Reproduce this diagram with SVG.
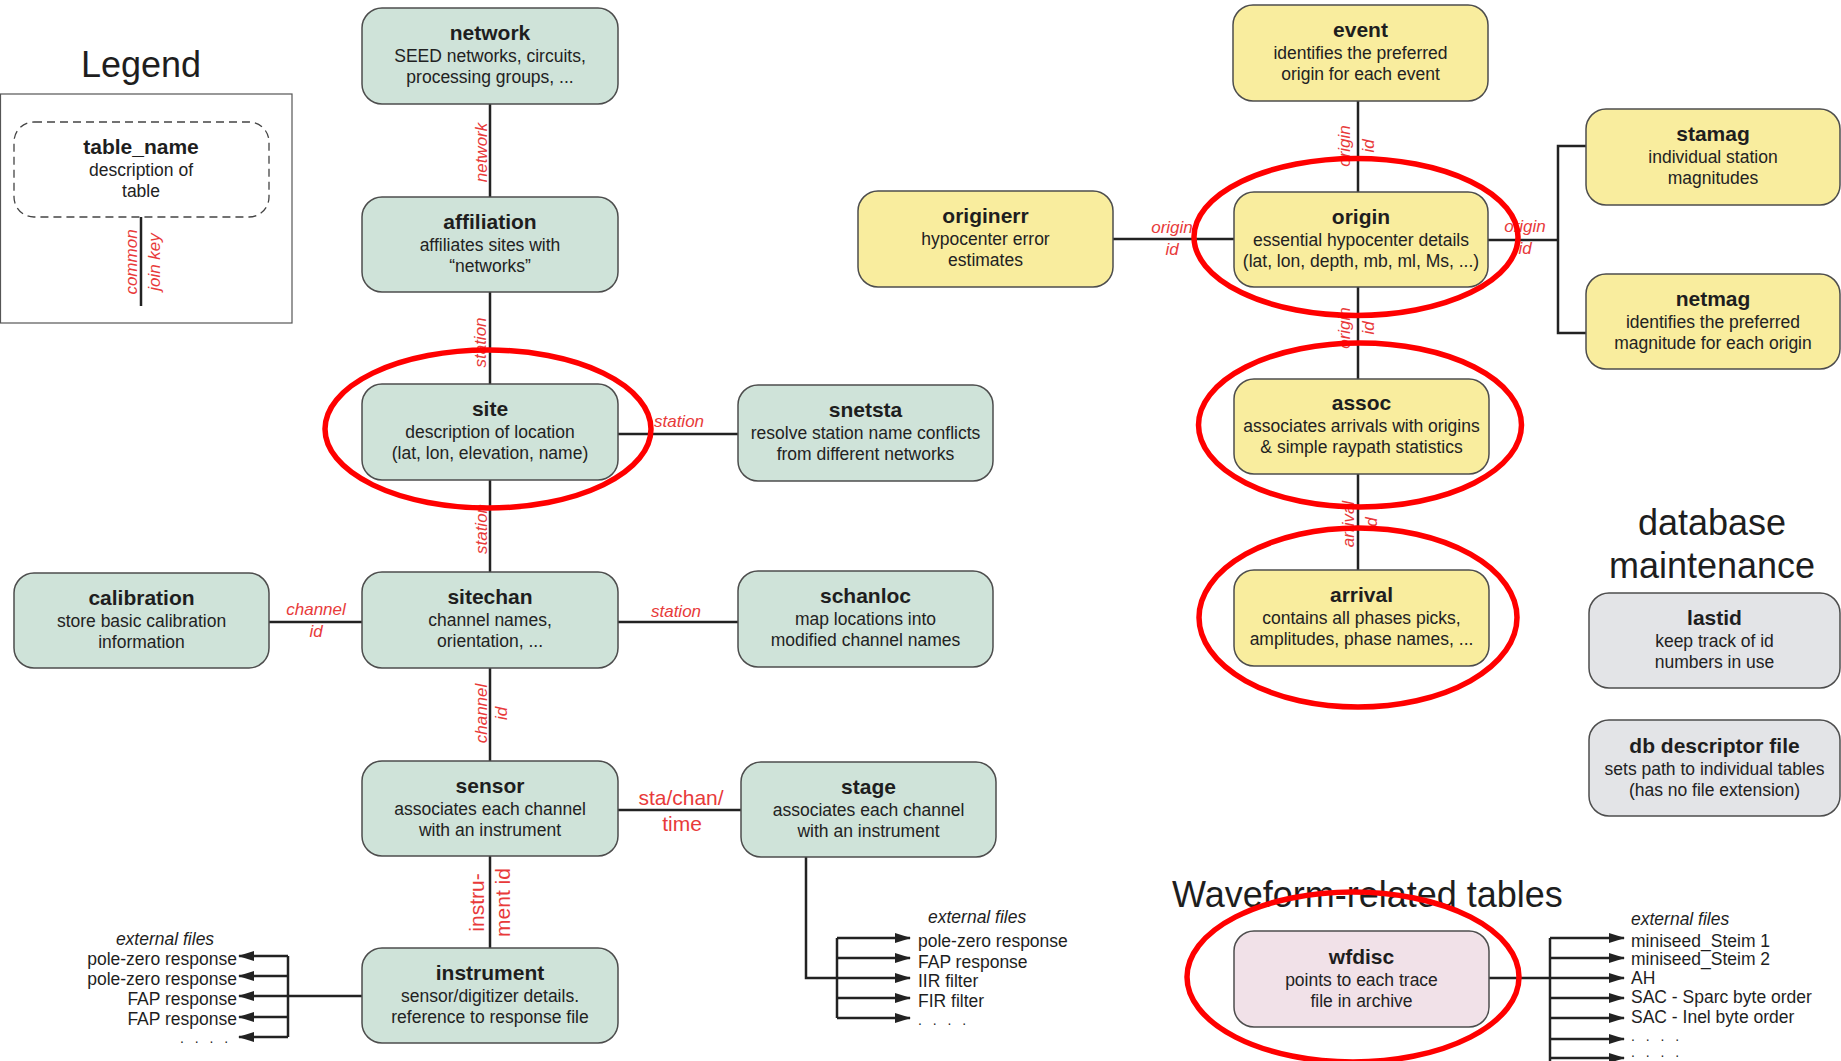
<svg xmlns="http://www.w3.org/2000/svg" width="1841" height="1061" viewBox="0 0 1841 1061">
<defs>
<style>
text{font-family:"Liberation Sans",Arial,sans-serif}
.box{stroke:#4d4d4d;stroke-width:1.5}
.green{fill:#cfe3d9}
.yellow{fill:#f9ed9e}
.gray{fill:#e3e4e7}
.pink{fill:#f1e1e8}
.t{font-size:21px;font-weight:bold;fill:#1e1e1e;text-anchor:middle}
.s{font-size:17.5px;fill:#222;text-anchor:middle}
.lbl{font-size:17px;font-style:italic;fill:#e83a3a;text-anchor:middle}
.lblr{font-size:21px;fill:#e83a3a;text-anchor:middle}
.big{font-size:36px;fill:#1e1e1e}
.ext{font-size:17.5px;fill:#1e1e1e}
.dots{font-size:14px;fill:#1e1e1e;word-spacing:7px}
.exti{font-size:17.5px;font-style:italic;fill:#1e1e1e}
.ln{stroke:#222;stroke-width:2.5;fill:none}
.arr{stroke:#222;stroke-width:2.5;fill:none;marker-end:url(#ah)}
.ell{fill:none;stroke:#f00;stroke-width:5.5}
</style>
<marker id="ah" viewBox="0 0 16 10" refX="15" refY="5" markerWidth="16" markerHeight="10" markerUnits="userSpaceOnUse" orient="auto">
<path d="M0,0 L16,5 L0,10 z" fill="#222"/>
</marker>
</defs>
<rect width="1841" height="1061" fill="#fff"/>

<!-- Headings -->
<text class="big" x="141" y="77" text-anchor="middle">Legend</text>
<text class="big" x="1712" y="535" text-anchor="middle">database</text>
<text class="big" x="1712" y="578" text-anchor="middle">maintenance</text>
<text class="big" x="1172" y="907">Waveform-related tables</text>

<!-- Legend -->
<g id="legend">
<rect x="0.5" y="94" width="291.5" height="229" fill="none" stroke="#555" stroke-width="1.2"/>
<rect x="14" y="122" width="255" height="95" rx="20" fill="#fff" stroke="#444" stroke-width="1.3" stroke-dasharray="8 5"/>
<text class="t" x="141" y="154">table_name</text>
<text class="s" x="141" y="176">description of</text>
<text class="s" x="141" y="197">table</text>
<line class="ln" x1="141" y1="217" x2="141" y2="306"/>
<g transform="translate(141,262) rotate(-90)">
<text class="lbl" x="0" y="-4">common</text>
<text class="lbl" x="0" y="19">join key</text>
</g>
</g>

<!-- Connectors -->
<g id="connectors">
<line class="ln" x1="490" y1="104" x2="490" y2="197"/>
<line class="ln" x1="490" y1="292" x2="490" y2="384"/>
<line class="ln" x1="490" y1="480" x2="490" y2="572"/>
<line class="ln" x1="490" y1="668" x2="490" y2="761"/>
<line class="ln" x1="490" y1="856" x2="490" y2="948"/>
<line class="ln" x1="618" y1="434" x2="738" y2="434"/>
<line class="ln" x1="269" y1="622" x2="362" y2="622"/>
<line class="ln" x1="618" y1="622" x2="738" y2="622"/>
<line class="ln" x1="618" y1="810" x2="741" y2="810"/>
<!-- instrument external files -->
<line class="ln" x1="362" y1="996" x2="288" y2="996"/>
<line class="ln" x1="288" y1="956" x2="288" y2="1037"/>
<line class="arr" x1="288" y1="956" x2="239" y2="956"/>
<line class="arr" x1="288" y1="976" x2="239" y2="976"/>
<line class="arr" x1="288" y1="996" x2="239" y2="996"/>
<line class="arr" x1="288" y1="1017" x2="239" y2="1017"/>
<line class="arr" x1="288" y1="1037" x2="239" y2="1037"/>
<!-- stage external files -->
<polyline class="ln" points="806,857 806,978 837,978"/>
<line class="ln" x1="837" y1="938" x2="837" y2="1018"/>
<line class="arr" x1="837" y1="938" x2="910" y2="938"/>
<line class="arr" x1="837" y1="958" x2="910" y2="958"/>
<line class="arr" x1="837" y1="978" x2="910" y2="978"/>
<line class="arr" x1="837" y1="998" x2="910" y2="998"/>
<line class="arr" x1="837" y1="1018" x2="910" y2="1018"/>
<!-- event side -->
<line class="ln" x1="1358" y1="101" x2="1358" y2="192"/>
<line class="ln" x1="1113" y1="239" x2="1234" y2="239"/>
<line class="ln" x1="1358" y1="287" x2="1358" y2="379"/>
<line class="ln" x1="1358" y1="474" x2="1358" y2="570"/>
<line class="ln" x1="1488" y1="240" x2="1558" y2="240"/>
<polyline class="ln" points="1586,146 1558,146 1558,333 1586,333"/>
<!-- wfdisc external files -->
<line class="ln" x1="1489" y1="978" x2="1550" y2="978"/>
<line class="ln" x1="1550" y1="938" x2="1550" y2="1061"/>
<line class="arr" x1="1550" y1="938" x2="1624" y2="938"/>
<line class="arr" x1="1550" y1="958" x2="1624" y2="958"/>
<line class="arr" x1="1550" y1="978" x2="1624" y2="978"/>
<line class="arr" x1="1550" y1="998" x2="1624" y2="998"/>
<line class="arr" x1="1550" y1="1018" x2="1624" y2="1018"/>
<line class="arr" x1="1550" y1="1039" x2="1624" y2="1039"/>
<line class="arr" x1="1550" y1="1058" x2="1624" y2="1058"/>

<!-- connector labels -->
<text class="lbl" transform="translate(490,152.5) rotate(-90)" y="-3">network</text>
<text class="lbl" transform="translate(490,342.5) rotate(-90)" y="-4">station</text>
<text class="lbl" transform="translate(490,529) rotate(-90)" y="-3">station</text>
<g transform="translate(490,713.5) rotate(-90)">
<text class="lbl" y="-3.5">channel</text>
<text class="lbl" y="17">id</text>
</g>
<g transform="translate(490,902.5) rotate(-90)">
<text class="lblr" y="-6.5">instru-</text>
<text class="lblr" y="19.5">ment id</text>
</g>
<text class="lbl" x="679" y="427">station</text>
<text class="lbl" x="676" y="617">station</text>
<text class="lbl" x="316" y="615">channel</text>
<text class="lbl" x="316" y="637">id</text>
<text class="lblr" x="681" y="805">sta/chan/</text>
<text class="lblr" x="682" y="831">time</text>
<g transform="translate(1358,146) rotate(-90)">
<text class="lbl" y="-8">origin</text>
<text class="lbl" y="16">id</text>
</g>
<g transform="translate(1358,328) rotate(-90)">
<text class="lbl" y="-8">origin</text>
<text class="lbl" y="16">id</text>
</g>
<g transform="translate(1358,524) rotate(-90)">
<text class="lbl" y="-4">arrival</text>
<text class="lbl" y="19">id</text>
</g>
<text class="lbl" x="1172" y="233">origin</text>
<text class="lbl" x="1172" y="255">id</text>
<text class="lbl" x="1525" y="232">origin</text>
<text class="lbl" x="1525" y="254">id</text>

<!-- external file labels -->
<text class="exti" x="165" y="945" text-anchor="middle">external files</text>
<text class="ext" x="237" y="965" text-anchor="end">pole-zero response</text>
<text class="ext" x="237" y="985" text-anchor="end">pole-zero response</text>
<text class="ext" x="237" y="1005" text-anchor="end">FAP response</text>
<text class="ext" x="237" y="1025" text-anchor="end">FAP response</text>
<text class="dots" x="180" y="1043">. . . .</text>

<text class="exti" x="928" y="923">external files</text>
<text class="ext" x="918" y="947">pole-zero response</text>
<text class="ext" x="918" y="968">FAP response</text>
<text class="ext" x="918" y="987">IIR filter</text>
<text class="ext" x="918" y="1007">FIR filter</text>
<text class="dots" x="918" y="1025">. . . .</text>

<text class="exti" x="1631" y="925">external files</text>
<text class="ext" x="1631" y="947">miniseed_Steim 1</text>
<text class="ext" x="1631" y="965">miniseed_Steim 2</text>
<text class="ext" x="1631" y="984">AH</text>
<text class="ext" x="1631" y="1003">SAC - Sparc byte order</text>
<text class="ext" x="1631" y="1023">SAC - Inel byte order</text>
<text class="dots" x="1631" y="1041">. . . .</text>
<text class="dots" x="1631" y="1057">. . . .</text>
</g>

<!-- Nodes -->
<g id="node-network">
<rect class="box green" x="362" y="8" width="256" height="96" rx="20"/>
<text class="t" x="490" y="40">network</text>
<text class="s" x="490" y="62">SEED networks, circuits,</text>
<text class="s" x="490" y="83">processing groups, ...</text>
</g>
<g id="node-affiliation">
<rect class="box green" x="362" y="197" width="256" height="95" rx="20"/>
<text class="t" x="490" y="229">affiliation</text>
<text class="s" x="490" y="251">affiliates sites with</text>
<text class="s" x="490" y="272">“networks”</text>
</g>
<g id="node-site">
<rect class="box green" x="362" y="384" width="256" height="96" rx="20"/>
<text class="t" x="490" y="416">site</text>
<text class="s" x="490" y="438">description of location</text>
<text class="s" x="490" y="459">(lat, lon, elevation, name)</text>
</g>
<g id="node-snetsta">
<rect class="box green" x="738" y="385" width="255" height="96" rx="20"/>
<text class="t" x="865.5" y="417">snetsta</text>
<text class="s" x="865.5" y="439">resolve station name conflicts</text>
<text class="s" x="865.5" y="460">from different networks</text>
</g>
<g id="node-calibration">
<rect class="box green" x="14" y="573" width="255" height="95" rx="20"/>
<text class="t" x="141.5" y="605">calibration</text>
<text class="s" x="141.5" y="627">store basic calibration</text>
<text class="s" x="141.5" y="648">information</text>
</g>
<g id="node-sitechan">
<rect class="box green" x="362" y="572" width="256" height="96" rx="20"/>
<text class="t" x="490" y="604">sitechan</text>
<text class="s" x="490" y="626">channel names,</text>
<text class="s" x="490" y="647">orientation, ...</text>
</g>
<g id="node-schanloc">
<rect class="box green" x="738" y="571" width="255" height="96" rx="20"/>
<text class="t" x="865.5" y="603">schanloc</text>
<text class="s" x="865.5" y="625">map locations into</text>
<text class="s" x="865.5" y="646">modified channel names</text>
</g>
<g id="node-sensor">
<rect class="box green" x="362" y="761" width="256" height="95" rx="20"/>
<text class="t" x="490" y="793">sensor</text>
<text class="s" x="490" y="815">associates each channel</text>
<text class="s" x="490" y="836">with an instrument</text>
</g>
<g id="node-stage">
<rect class="box green" x="741" y="762" width="255" height="95" rx="20"/>
<text class="t" x="868.5" y="794">stage</text>
<text class="s" x="868.5" y="816">associates each channel</text>
<text class="s" x="868.5" y="837">with an instrument</text>
</g>
<g id="node-instrument">
<rect class="box green" x="362" y="948" width="256" height="95" rx="20"/>
<text class="t" x="490" y="980">instrument</text>
<text class="s" x="490" y="1002">sensor/digitizer details.</text>
<text class="s" x="490" y="1023">reference to response file</text>
</g>
<g id="node-event">
<rect class="box yellow" x="1233" y="5" width="255" height="96" rx="20"/>
<text class="t" x="1360.5" y="37">event</text>
<text class="s" x="1360.5" y="59">identifies the preferred</text>
<text class="s" x="1360.5" y="80">origin for each event</text>
</g>
<g id="node-originerr">
<rect class="box yellow" x="858" y="191" width="255" height="96" rx="20"/>
<text class="t" x="985.5" y="223">originerr</text>
<text class="s" x="985.5" y="245">hypocenter error</text>
<text class="s" x="985.5" y="266">estimates</text>
</g>
<g id="node-origin">
<rect class="box yellow" x="1234" y="192" width="254" height="95" rx="20"/>
<text class="t" x="1361" y="224">origin</text>
<text class="s" x="1361" y="246">essential hypocenter details</text>
<text class="s" x="1361" y="267">(lat, lon, depth, mb, ml, Ms, ...)</text>
</g>
<g id="node-stamag">
<rect class="box yellow" x="1586" y="109" width="254" height="96" rx="20"/>
<text class="t" x="1713" y="141">stamag</text>
<text class="s" x="1713" y="163">individual station</text>
<text class="s" x="1713" y="184">magnitudes</text>
</g>
<g id="node-netmag">
<rect class="box yellow" x="1586" y="274" width="254" height="95" rx="20"/>
<text class="t" x="1713" y="306">netmag</text>
<text class="s" x="1713" y="328">identifies the preferred</text>
<text class="s" x="1713" y="349">magnitude for each origin</text>
</g>
<g id="node-assoc">
<rect class="box yellow" x="1234" y="379" width="255" height="95" rx="20"/>
<text class="t" x="1361.5" y="410">assoc</text>
<text class="s" x="1361.5" y="432">associates arrivals with origins</text>
<text class="s" x="1361.5" y="453">&amp; simple raypath statistics</text>
</g>
<g id="node-arrival">
<rect class="box yellow" x="1234" y="570" width="255" height="96" rx="20"/>
<text class="t" x="1361.5" y="602">arrival</text>
<text class="s" x="1361.5" y="624">contains all phases picks,</text>
<text class="s" x="1361.5" y="645">amplitudes, phase names, ...</text>
</g>
<g id="node-lastid">
<rect class="box gray" x="1589" y="593" width="251" height="95" rx="20"/>
<text class="t" x="1714.5" y="625">lastid</text>
<text class="s" x="1714.5" y="647">keep track of id</text>
<text class="s" x="1714.5" y="668">numbers in use</text>
</g>
<g id="node-dbdescriptor">
<rect class="box gray" x="1589" y="720" width="251" height="96" rx="20"/>
<text class="t" x="1714.5" y="753">db descriptor file</text>
<text class="s" x="1714.5" y="775">sets path to individual tables</text>
<text class="s" x="1714.5" y="796">(has no file extension)</text>
</g>
<g id="node-wfdisc">
<rect class="box pink" x="1234" y="931" width="255" height="96" rx="20"/>
<text class="t" x="1361.5" y="964">wfdisc</text>
<text class="s" x="1361.5" y="986">points to each trace</text>
<text class="s" x="1361.5" y="1007">file in archive</text>
</g>

<!-- Highlight ellipses -->
<g id="highlights">
<ellipse class="ell" cx="488" cy="429" rx="163" ry="79"/>
<ellipse class="ell" cx="1356" cy="237" rx="162" ry="78.5"/>
<ellipse class="ell" cx="1360" cy="425" rx="161.5" ry="82"/>
<ellipse class="ell" cx="1358" cy="617.5" rx="159" ry="89.5"/>
<ellipse class="ell" cx="1353" cy="977" rx="166" ry="85"/>
</g>
</svg>
